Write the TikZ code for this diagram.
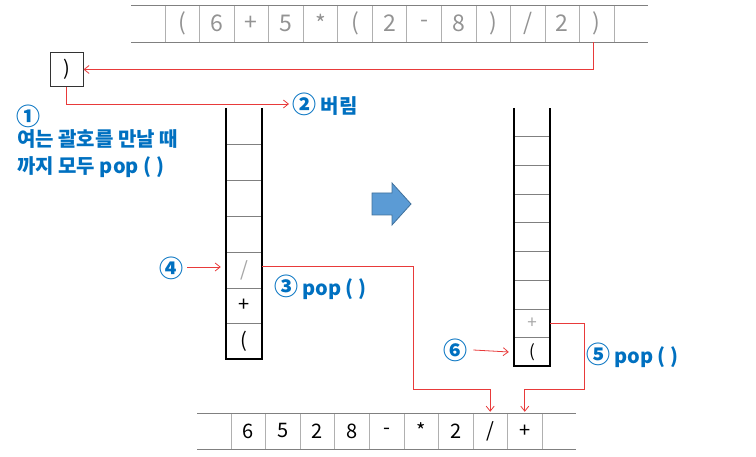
\documentclass[tikz,border=0pt]{standalone}
\usepackage{fontspec}
\setmainfont{Noto Sans CJK KR}
\usetikzlibrary{arrows.meta,calc}
\definecolor{myblue}{HTML}{0070C0}
\definecolor{myred}{HTML}{E83A3A}
\definecolor{arrfill}{HTML}{5B9BD5}
\definecolor{arrline}{HTML}{41719C}
\definecolor{cellline}{HTML}{B0B0B0}
\newcommand{\circnum}[1]{{\fontsize{24}{24}\selectfont #1}}
\newcommand{\popp}{pop\hspace{4pt}(\hspace{5pt})}
\begin{document}
\begin{tikzpicture}[x=1pt,y=-1pt,
  tcell/.style={minimum width=34.54pt,minimum height=37pt,inner sep=0pt,anchor=center,text=gray!85,font=\fontsize{23}{23}\selectfont},
  bcell/.style={minimum width=34.56pt,minimum height=36pt,inner sep=0pt,anchor=center,text=black,font=\fontsize{20}{20}\selectfont},
  lcell/.style={minimum width=36pt,minimum height=36pt,inner sep=0pt,anchor=center,font=\fontsize{20}{20}\selectfont},
  rcell/.style={minimum width=36pt,minimum height=28.7pt,inner sep=0pt,anchor=center,font=\fontsize{17}{17}\selectfont},
  lbl/.style={text=myblue,font=\fontsize{20}{27}\selectfont\bfseries,inner sep=0pt,anchor=west,align=left},
  redarrow/.style={draw=myred,line width=0.8pt,-{Straight Barb[length=5pt,width=8pt]}},
  wall/.style={line width=2.6pt,black},
  divl/.style={line width=0.6pt,gray},
]
\useasboundingbox (0,0) rectangle (756,457);

% ---- top array ----
\foreach \k in {0,...,13} {\draw[cellline,line width=0.6pt] ({165+34.54*\k},5) -- ({165+34.54*\k},42);}
\draw[gray,line width=0.9pt] (131,5) -- (648,5);
\draw[gray,line width=0.9pt] (131,42) -- (648,42);
\node[tcell] (t1) at ({165+34.54*0.5},23.5) {(};
\node[tcell] (t2) at ({165+34.54*1.5},23.5) {6};
\node[tcell] (t3) at ({165+34.54*2.5},23.5) {+};
\node[tcell] (t4) at ({165+34.54*3.5},23.5) {5};
\node[tcell] (t5) at ({165+34.54*4.5},23.5) {*};
\node[tcell] (t6) at ({165+34.54*5.5},23.5) {(};
\node[tcell] (t7) at ({165+34.54*6.5},23.5) {2};
\node[tcell] (t8) at ({165+34.54*7.5},23.5) {-};
\node[tcell] (t9) at ({165+34.54*8.5},23.5) {8};
\node[tcell] (t10) at ({165+34.54*9.5},23.5) {)};
\node[tcell] (t11) at ({165+34.54*10.5},23.5) {/};
\node[tcell] (t12) at ({165+34.54*11.5},23.5) {2};
\node[tcell] (t13) at ({165+34.54*12.5},23.5) {)};

% ---- popped ) box ----
\node[draw=black!80,line width=1pt,minimum width=33pt,minimum height=34pt,inner sep=0pt,font=\fontsize{20}{20}\selectfont] (box) at (66.5,69.5) {)};
\node[lbl] (lbl2) at (292,104) {\circnum{②} 버림};
\draw[redarrow] ($(t13.south)+(-3,0)$) |- (box.east);
\draw[redarrow] (box.south) |- ($(lbl2.west)+(-3,0)$);

\node[lbl] (lbl1a) at (16,116) {\circnum{①}};
\node[lbl] (lbl1) at (17,154) {여는 괄호를 만날 때\\까지 모두 \popp};

% ---- left stack ----
\foreach \yy in {144,180,216,252,288,323} {\draw[divl] (226,\yy) -- (262,\yy);}
\draw[wall] (226,108) -- (226,359) -- (262,359) -- (262,108);
\node[lcell] (L5) at (244,270) {\textcolor{gray!70}{/}};
\node[lcell] (L6) at (244,305.5) {+};
\node[lcell] (L7) at (244,341) {(};
\node[lbl] (lbl4) at (159,268) {\circnum{④}};
\node[lbl] (lbl3) at (274,287) {\circnum{③} \popp};
\draw[redarrow] ($(lbl4.east)+(4,-1)$) -- ($(L5.west)+(-5,-3)$);

% ---- big arrow ----
\filldraw[fill=arrfill,draw=arrline,line width=0.8pt] (372,193) -- (392,193) -- (392,183) -- (411,204) -- (392,225) -- (392,215) -- (372,215) -- cycle;

% ---- right stack ----
\foreach \yy in {136.7,165.4,194.1,222.8,251.5,280.2,308.9,337.6} {\draw[divl] (514,\yy) -- (550,\yy);}
\draw[wall] (514,108) -- (514,366) -- (550,366) -- (550,108);
\node[rcell] (R8) at (532,323.3) {\textcolor{gray!70}{+}};
\node[rcell] (R9) at (532,352) {(};
\node[lbl] (lbl6) at (443,350) {\circnum{⑥}};
\node[lbl] (lbl5) at (586,355) {\circnum{⑤} \popp};
\draw[redarrow] ($(lbl6.east)+(6,0)$) -- ($(R9.west)+(-5,0)$);

% ---- bottom array ----
\foreach \k in {0,...,9} {\draw[cellline,line width=0.6pt] ({231+34.56*\k},413) -- ({231+34.56*\k},449);}
\draw[gray,line width=0.9pt] (197,413) -- (576,413);
\draw[gray,line width=0.9pt] (197,449) -- (576,449);
\node[bcell] (B1) at ({231+34.56*0.5},431) {6};
\node[bcell] (B2) at ({231+34.56*1.5},431) {5};
\node[bcell] (B3) at ({231+34.56*2.5},431) {2};
\node[bcell] (B4) at ({231+34.56*3.5},431) {8};
\node[bcell] (B5) at ({231+34.56*4.5},431) {-};
\node[bcell] (B6) at ({231+34.56*5.5},431) {*};
\node[bcell] (B7) at ({231+34.56*6.5},431) {2};
\node[bcell] (B8) at ({231+34.56*7.5},431) {/};
\node[bcell] (B9) at ({231+34.56*8.5},431) {+};

% ---- pop connectors ----
\coordinate (c1) at (413,389);
\coordinate (c2) at (584,389);
\draw[redarrow] ($(L5.east)+(0,-4)$) -| (c1) -| ($(B8.north)+(0,-1)$);
\draw[redarrow] (R8.east) -| (c2) -| ($(B9.north)+(0,-1)$);
\end{tikzpicture}
\end{document}
